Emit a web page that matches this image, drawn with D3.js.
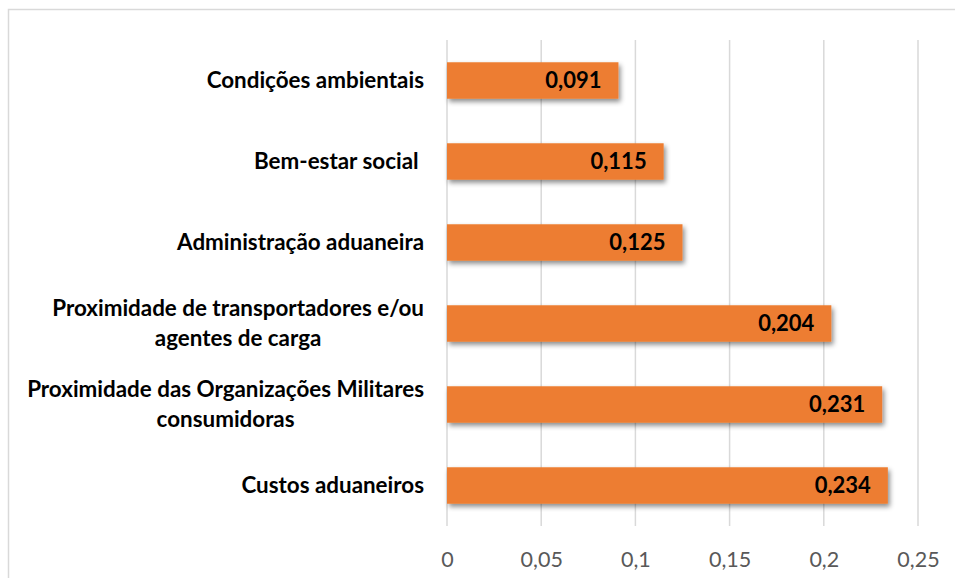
<!DOCTYPE html>
<html>
<head>
<meta charset="utf-8">
<script src="https://cdn.jsdelivr.net/npm/d3@7"></script>
<style>
  body { margin: 0; background: #fff; }
  svg { display: block; }
  text { font-family: Lato, "Open Sans", sans-serif; }
</style>
</head>
<body>
<div id="chart"></div>
<script>
// chart data
var categories = ["Condições ambientais", "Bem-estar social ", "Administração aduaneira",
  "Proximidade de transportadores e/ou agentes de carga",
  "Proximidade das Organizações Militares consumidoras", "Custos aduaneiros"];
var labelLines = [
  ["Condições ambientais"],
  ["Bem-estar social "],
  ["Administração aduaneira"],
  ["Proximidade de transportadores e/ou", "agentes de carga"],
  ["Proximidade das Organizações Militares", "consumidoras"],
  ["Custos aduaneiros"]
];
var values = [0.091, 0.115, 0.125, 0.204, 0.231, 0.234];
var tickValues = [0, 0.05, 0.1, 0.15, 0.2, 0.25];

var width = 955, height = 578;
var plot = { left: 447, right: 918, top: 40, bottom: 526 };

var svg = d3.select("#chart").append("svg")
  .attr("width", width)
  .attr("height", height);

// shadow for bars
var filter = svg.append("defs").append("filter")
  .attr("id", "shadow")
  .attr("x", "-10%").attr("y", "-30%")
  .attr("width", "130%").attr("height", "180%");
filter.append("feDropShadow")
  .attr("dx", 2).attr("dy", 3)
  .attr("stdDeviation", 2.5)
  .attr("flood-color", "#000")
  .attr("flood-opacity", 0.45);

// chart border (runs off the right and bottom edges)
svg.append("rect")
  .attr("x", 8.5).attr("y", 9.5)
  .attr("width", 1000).attr("height", 700)
  .attr("fill", "none")
  .attr("stroke", "#d9d9d9")
  .attr("stroke-width", 1.5);

var x = d3.scaleLinear()
  .domain([0, 0.25])
  .range([plot.left, plot.right]);

var y = d3.scaleBand()
  .domain(categories)
  .range([plot.top, plot.bottom])
  .paddingInner(0.55)
  .paddingOuter(0.275);

var fmt = function(d) { return String(d).replace(".", ","); };

// gridlines
svg.append("g")
  .selectAll("line")
  .data(tickValues)
  .enter()
  .append("line")
  .attr("x1", function(d) { return x(d); })
  .attr("x2", function(d) { return x(d); })
  .attr("y1", plot.top)
  .attr("y2", plot.bottom)
  .attr("stroke", "#d9d9d9")
  .attr("stroke-width", 1.5);

// x axis labels
var xAxis = d3.axisBottom(x)
  .tickValues(tickValues)
  .tickFormat(fmt)
  .tickSize(0)
  .tickPadding(0);

var gx = svg.append("g")
  .attr("transform", "translate(0," + (plot.bottom + 33) + ")")
  .call(xAxis);
gx.select(".domain").remove();
gx.selectAll("text")
  .attr("dy", "0.36em")
  .attr("y", 0)
  .style("font-size", "21.5px")
  .style("font-family", "Lato, sans-serif")
  .attr("fill", "#595959");

// bars
svg.append("g")
  .selectAll("rect")
  .data(values)
  .enter()
  .append("rect")
  .attr("x", x(0))
  .attr("y", function(d, i) { return y(categories[i]); })
  .attr("width", function(d) { return x(d) - x(0); })
  .attr("height", y.bandwidth())
  .attr("fill", "#ed7d31")
  .attr("filter", "url(#shadow)");

// value labels
svg.append("g")
  .selectAll("text")
  .data(values)
  .enter()
  .append("text")
  .attr("x", function(d) { return x(d) - 17; })
  .attr("y", function(d, i) { return y(categories[i]) + y.bandwidth() / 2; })
  .attr("dy", "0.36em")
  .attr("text-anchor", "end")
  .style("font-size", "22px")
  .style("font-weight", "bold")
  .attr("fill", "#000")
  .text(fmt);

// category labels (block right aligned, lines centred)
var labelRight = 424;
var lineH = 30;
var catG = svg.append("g");
labelLines.forEach(function(lines, i) {
  var cy = y(categories[i]) + y.bandwidth() / 2;
  var t = catG.append("text")
    .style("font-size", "22.4px")
    .style("font-weight", "bold")
    .style("white-space", "pre")
    .attr("fill", "#000");
  var spans = lines.map(function(line, j) {
    return t.append("tspan")
      .attr("y", cy + (j - (lines.length - 1) / 2) * lineH)
      .attr("dy", "0.35em")
      .text(line);
  });
  var widths = spans.map(function(s) { return s.node().getComputedTextLength(); });
  var blockW = d3.max(widths);
  spans.forEach(function(s, j) {
    s.attr("x", labelRight - blockW / 2)
      .attr("text-anchor", "middle");
  });
});
</script>
</body>
</html>
